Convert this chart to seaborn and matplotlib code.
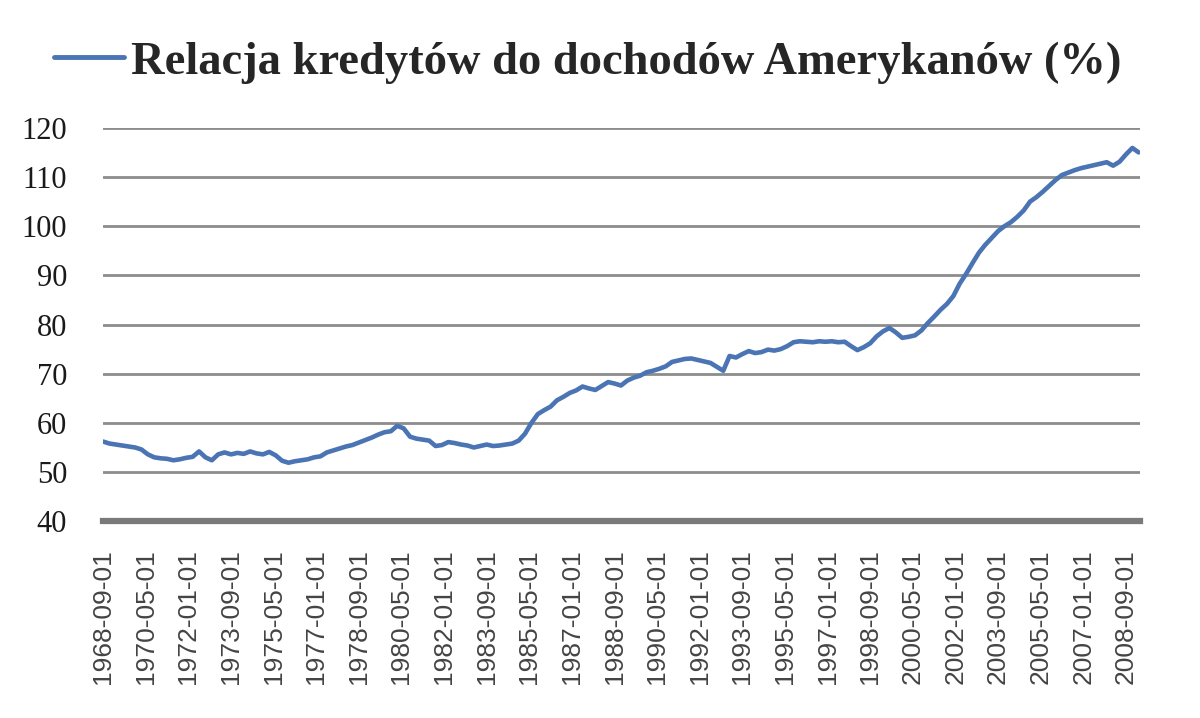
"""
Relacja kredytów do dochodów Amerykanów (%), 1968-2009.
"""
import numpy as np
import pandas as pd
import matplotlib
matplotlib.use('Agg')
import matplotlib.pyplot as plt
import seaborn as sns

SERIES_LABEL = 'Relacja kredytów do dochodów Amerykanów (%)'
START = '1968-09-01'

# quarterly readings (Sep 1968 .. Mar 2009), one row per year
ratio = [
    56.2, 55.8,
    55.6, 55.4, 55.2, 55.0,      # 1969
    54.6, 53.6, 53.0, 52.8,      # 1970
    52.7, 52.4, 52.6, 52.9,      # 1971
    53.1, 54.2, 53.0, 52.4,      # 1972
    53.6, 54.0, 53.6, 53.9,      # 1973
    53.7, 54.2, 53.8, 53.6,      # 1974
    54.1, 53.4, 52.3, 51.9,      # 1975
    52.2, 52.4, 52.6, 53.0,      # 1976
    53.2, 54.0, 54.4, 54.8,      # 1977
    55.2, 55.5, 56.0, 56.5,      # 1978
    57.0, 57.6, 58.1, 58.3,      # 1979
    59.4, 58.9, 57.2, 56.8,      # 1980
    56.6, 56.4, 55.3, 55.5,      # 1981
    56.1, 55.9, 55.6, 55.4,      # 1982
    55.0, 55.3, 55.6, 55.3,      # 1983
    55.4, 55.6, 55.8, 56.4,      # 1984
    57.8, 60.0, 61.8, 62.6,      # 1985
    63.3, 64.6, 65.3, 66.1,      # 1986
    66.6, 67.4, 67.0, 66.7,      # 1987
    67.5, 68.3, 68.0, 67.6,      # 1988
    68.6, 69.2, 69.6, 70.3,      # 1989
    70.6, 71.0, 71.5, 72.4,      # 1990
    72.7, 73.0, 73.1, 72.8,      # 1991
    72.5, 72.2, 71.4, 70.6,      # 1992
    73.6, 73.3, 74.0, 74.6,      # 1993
    74.2, 74.4, 74.9, 74.7,      # 1994
    75.0, 75.6, 76.4, 76.6,      # 1995
    76.5, 76.4, 76.6, 76.5,      # 1996
    76.6, 76.4, 76.5, 75.6,      # 1997
    74.8, 75.4, 76.2, 77.6,      # 1998
    78.6, 79.3, 78.4, 77.3,      # 1999
    77.5, 77.8, 78.8, 80.3,      # 2000
    81.6, 83.0, 84.2, 85.8,      # 2001
    88.3, 90.3, 92.5, 94.6,      # 2002
    96.2, 97.6, 99.0, 100.0,     # 2003
    100.8, 101.9, 103.2, 105.0,  # 2004
    105.9, 107.0, 108.2, 109.4,  # 2005
    110.4, 110.9, 111.4, 111.8,  # 2006
    112.1, 112.4, 112.7, 113.0,  # 2007
    112.3, 113.1, 114.6, 115.9,  # 2008
    115.0,                       # 2009
]

y_ticks = [40, 50, 60, 70, 80, 90, 100, 110, 120]
x_tick_dates = pd.date_range('1968-09-01', '2008-09-01', freq='20MS')

df = pd.DataFrame({
    'data': pd.date_range(START, periods=len(ratio), freq='3MS'),
    'wartosc': ratio,
})

sns.set_theme(style='white')
plt.rcParams['font.family'] = ['Liberation Serif', 'DejaVu Serif']

fig = plt.figure(figsize=(12, 7.18), dpi=100)
ax = fig.add_axes([0.086, 0.274, 0.864, 0.548])

sns.lineplot(data=df, x='data', y='wartosc', ax=ax, color='#4a74b4',
             linewidth=3.3, label=SERIES_LABEL)

ax.set_ylim(40, 120)
ax.set_xlim(pd.Timestamp(START), pd.Timestamp('2009-03-20'))
ax.set_yticks(y_ticks)
ax.set_yticklabels([str(v) for v in y_ticks], fontsize=22,
                   family=['Liberation Serif'], color='#1a1a1a')
ax.set_xticks(x_tick_dates)
ax.set_xticklabels([d.strftime('%Y-%m-%d') for d in x_tick_dates],
                   rotation=90, fontsize=19, family=['Liberation Sans'],
                   color='#444444')
ax.tick_params(axis='y', length=0, pad=26)
ax.tick_params(axis='x', length=0, pad=20)
ax.set_xlabel('')
ax.set_ylabel('')

for v in y_ticks[1:]:
    ax.axhline(v, color='#8c8c8c', linewidth=2.0, zorder=0)
for side in ['top', 'right', 'left']:
    ax.spines[side].set_visible(False)
ax.spines['bottom'].set_color('#7a7a7a')
ax.spines['bottom'].set_linewidth(4.5)

leg = ax.legend(loc='center', bbox_to_anchor=(0.49, 0.913),
                bbox_transform=fig.transFigure, frameon=False,
                handlelength=1.5, handletextpad=0.15,
                prop={'family': 'Liberation Serif', 'weight': 'bold',
                      'size': 33.5})
for line in leg.get_lines():
    line.set_linewidth(3.5)

fig.savefig('out.png', dpi=100)
